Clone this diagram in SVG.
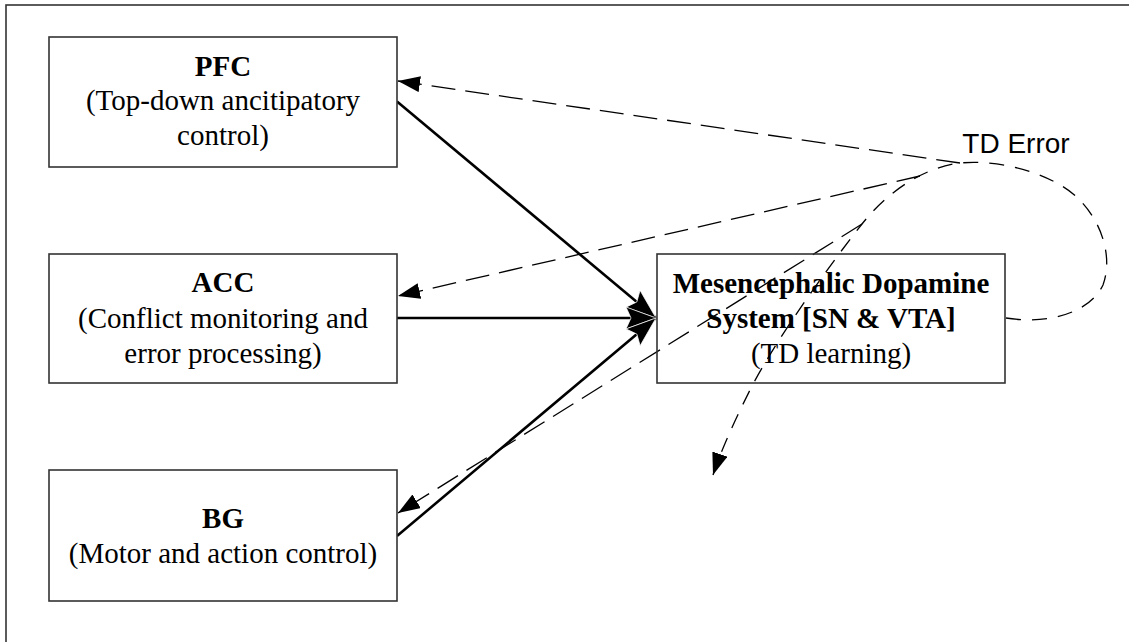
<svg xmlns="http://www.w3.org/2000/svg" width="1129" height="642" viewBox="0 0 1129 642">
<style>
.box{fill:#fff;stroke:#333;stroke-width:1.6}
.t{font-family:"Liberation Serif","Times New Roman",serif;font-size:29px;fill:#000;text-anchor:middle}
.b{font-weight:bold}
.solid{fill:none;stroke:#000;stroke-width:2.6}
.dash{fill:none;stroke:#000;stroke-width:1.3;stroke-dasharray:24 10}
.loop{fill:none;stroke:#000;stroke-width:1.3;stroke-dasharray:15 11}
</style>
<defs>
<marker id="ah" markerUnits="userSpaceOnUse" markerWidth="32" markerHeight="24" refX="30" refY="11" orient="auto">
<path d="M0,0 L30,11 L0,22 L5,11 Z" fill="#000" stroke="#fff" stroke-width="0.7"/>
</marker>
<marker id="ad" markerUnits="userSpaceOnUse" markerWidth="24" markerHeight="18" refX="22" refY="8" orient="auto">
<path d="M0,0 L22,8 L0,16 Z" fill="#000"/>
</marker>
</defs>
<rect x="6" y="5" width="1130" height="645" fill="none" stroke="#333" stroke-width="1.6"/>
<g id="connectors">
<line class="solid" x1="397" y1="101.5" x2="656" y2="318" marker-end="url(#ah)"/>
<line class="solid" x1="397" y1="318" x2="656" y2="318" marker-end="url(#ah)"/>
<line class="solid" x1="397" y1="536" x2="656" y2="318" marker-end="url(#ah)"/>
<path class="loop" d="M1006,318 C1050,325 1090,312 1103,285 C1115,252 1097,207 1062,186 C1032,168 992,160 960,163 C920,168 885,195 862,224 C835,258 775,340 750,390 C735,420 722,448 713,475" marker-end="url(#ad)"/>
<line class="dash" x1="960" y1="163" x2="398" y2="81" marker-end="url(#ad)"/>
<line class="dash" x1="920" y1="176" x2="398" y2="296" marker-end="url(#ad)"/>
<line class="dash" x1="862" y1="224" x2="398" y2="513" marker-end="url(#ad)"/>
<text x="1016" y="153" style="font-family:'Liberation Sans',Arial,sans-serif;font-size:28px;text-anchor:middle">TD Error</text>
</g>
<g id="pfc">
<rect class="box" x="49" y="37" width="348" height="130"/>
<text class="t b" x="223" y="76">PFC</text>
<text class="t" x="223" y="110">(Top-down ancitipatory</text>
<text class="t" x="223" y="145">control)</text>
</g>
<g id="acc">
<rect class="box" x="49" y="254" width="348" height="129"/>
<text class="t b" x="223" y="292">ACC</text>
<text class="t" x="223" y="328">(Conflict monitoring and</text>
<text class="t" x="223" y="363">error processing)</text>
</g>
<g id="bg">
<rect class="box" x="49" y="470" width="348" height="131"/>
<text class="t b" x="223" y="528">BG</text>
<text class="t" x="223" y="563">(Motor and action control)</text>
</g>
<g id="mds">
<rect class="box" x="657" y="254" width="348" height="129" fill-opacity="0"/>
<text class="t b" x="831" y="293">Mesencephalic Dopamine</text>
<text class="t b" x="831" y="328">System [SN &amp; VTA]</text>
<text class="t" x="831" y="363">(TD learning)</text>
</g>
</svg>
